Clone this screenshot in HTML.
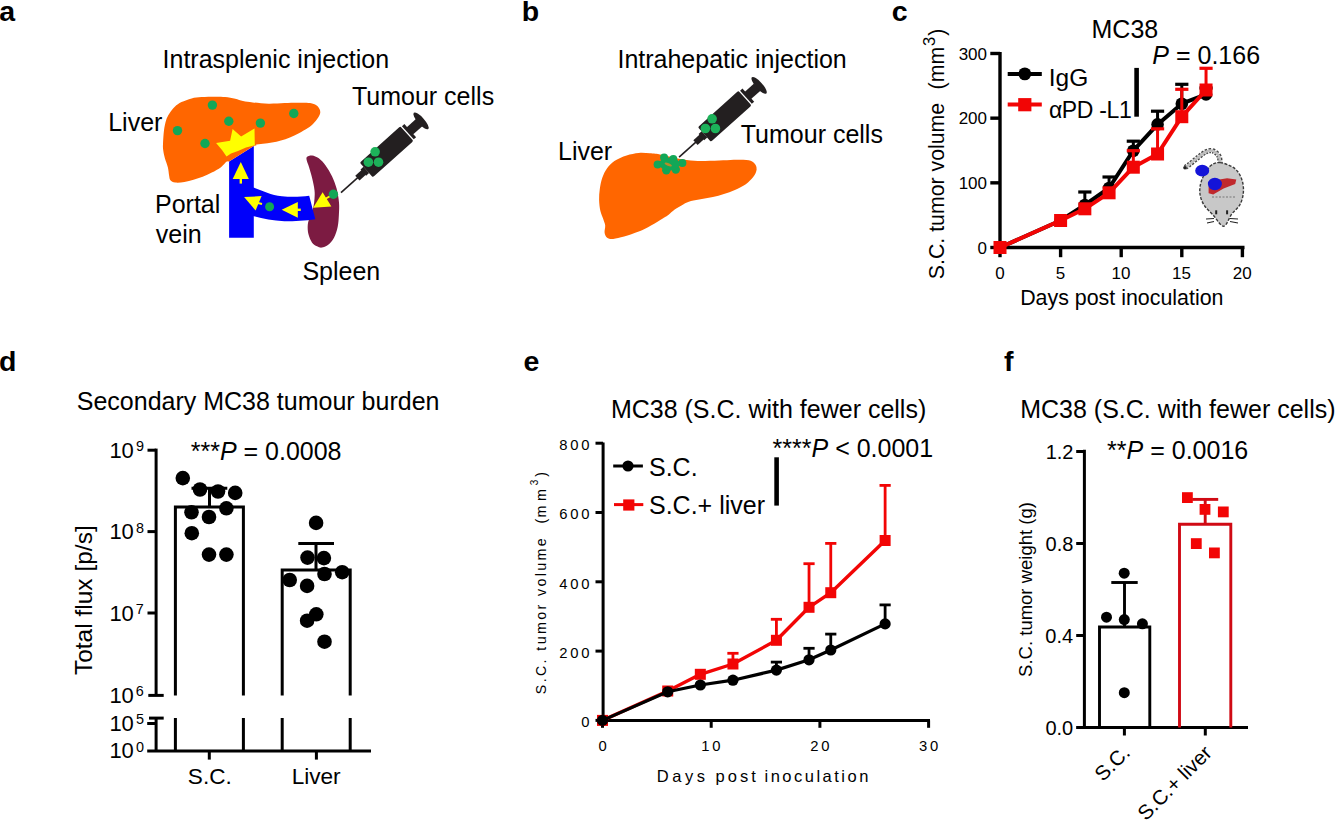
<!DOCTYPE html>
<html><head><meta charset="utf-8"><style>
html,body{margin:0;padding:0;background:#fff;overflow:hidden;width:1336px;height:820px;}
svg{display:block;}
text{font-family:"Liberation Sans", sans-serif;}
</style></head><body>
<svg width="1336" height="820" viewBox="0 0 1336 820">
<rect width="1336" height="820" fill="#fff"/>
<text x="-0.88" y="21.20" font-size="28.5" font-weight="bold">a</text>
<text x="521.83" y="21.00" font-size="28.5" font-weight="bold">b</text>
<text x="891.77" y="20.80" font-size="28.5" font-weight="bold">c</text>
<text x="-1.12" y="370.80" font-size="28.5" font-weight="bold">d</text>
<text x="523.48" y="370.80" font-size="28.5" font-weight="bold">e</text>
<text x="1003.90" y="371.00" font-size="28.5" font-weight="bold">f</text>
<text x="162.55" y="68.00" font-size="25">Intrasplenic injection</text>
<path d="M163.00,143.70 C163.13,140.42 163.48,134.22 164.00,130.30 C164.52,126.38 165.20,123.00 166.10,120.20 C167.00,117.40 167.95,115.73 169.40,113.50 C170.85,111.27 172.78,108.70 174.80,106.80 C176.82,104.90 178.70,103.50 181.50,102.10 C184.30,100.70 188.25,99.25 191.60,98.40 C194.95,97.55 197.70,97.28 201.60,97.00 C205.50,96.72 211.08,96.70 215.00,96.70 C218.92,96.70 221.73,96.67 225.10,97.00 C228.47,97.33 232.22,98.02 235.20,98.70 C238.18,99.38 240.08,100.48 243.00,101.10 C245.92,101.72 248.43,101.97 252.70,102.40 C256.97,102.83 263.30,103.60 268.60,103.70 C273.90,103.80 279.72,103.17 284.50,103.00 C289.28,102.83 293.05,102.70 297.30,102.70 C301.55,102.70 306.83,102.57 310.00,103.00 C313.17,103.43 314.72,104.28 316.30,105.30 C317.88,106.32 318.85,107.83 319.50,109.10 C320.15,110.37 320.42,111.52 320.20,112.90 C319.98,114.28 319.37,115.60 318.20,117.40 C317.03,119.20 314.92,121.93 313.20,123.70 C311.48,125.47 310.28,126.42 307.90,128.00 C305.52,129.58 301.90,131.63 298.90,133.20 C295.90,134.77 292.90,136.20 289.90,137.40 C286.90,138.60 283.88,139.55 280.90,140.40 C277.92,141.25 274.98,141.95 272.00,142.50 C269.02,143.05 265.90,143.32 263.00,143.70 C260.10,144.08 257.43,144.00 254.60,144.80 C251.77,145.60 248.65,147.13 246.00,148.50 C243.35,149.87 241.75,150.98 238.70,153.00 C235.65,155.02 230.65,158.23 227.70,160.60 C224.75,162.97 223.65,165.20 221.00,167.20 C218.35,169.20 214.85,171.00 211.80,172.60 C208.75,174.20 205.75,175.60 202.70,176.80 C199.65,178.00 196.55,178.92 193.50,179.80 C190.45,180.68 187.45,181.63 184.40,182.10 C181.35,182.57 177.53,182.92 175.20,182.60 C172.87,182.28 171.42,181.40 170.40,180.20 C169.38,179.00 169.52,177.53 169.10,175.40 C168.68,173.27 168.60,170.25 167.90,167.40 C167.20,164.55 165.68,161.20 164.90,158.30 C164.12,155.40 163.52,152.43 163.20,150.00 C162.88,147.57 162.87,146.98 163.00,143.70 Z" fill="#FF6600"/>
<circle cx="212.40" cy="105.10" r="4.7" fill="#12A757"/>
<circle cx="228.80" cy="121.20" r="4.7" fill="#12A757"/>
<circle cx="177.50" cy="130.60" r="4.7" fill="#12A757"/>
<circle cx="205.00" cy="143.50" r="4.7" fill="#12A757"/>
<circle cx="260.40" cy="123.10" r="4.7" fill="#12A757"/>
<circle cx="293.80" cy="113.50" r="4.7" fill="#12A757"/>
<path d="M307.20,156.70 C308.12,155.98 310.17,155.23 312.10,155.50 C314.03,155.77 316.55,156.65 318.80,158.30 C321.05,159.95 323.40,162.42 325.60,165.40 C327.80,168.38 330.17,172.33 332.00,176.20 C333.83,180.07 335.43,184.23 336.60,188.60 C337.77,192.97 338.62,198.07 339.00,202.40 C339.38,206.73 339.12,210.53 338.90,214.60 C338.68,218.67 338.52,222.93 337.70,226.80 C336.88,230.67 335.63,234.75 334.00,237.80 C332.37,240.85 329.93,243.47 327.90,245.10 C325.87,246.73 323.62,247.40 321.80,247.60 C319.98,247.80 318.62,247.12 317.00,246.30 C315.38,245.48 313.53,244.73 312.10,242.70 C310.67,240.67 309.12,237.15 308.40,234.10 C307.68,231.05 307.50,227.43 307.80,224.40 C308.10,221.37 309.28,218.75 310.20,215.90 C311.12,213.05 312.58,210.15 313.30,207.30 C314.02,204.45 314.30,201.65 314.50,198.80 C314.70,195.95 314.90,193.67 314.50,190.20 C314.10,186.73 313.02,181.85 312.10,178.00 C311.18,174.15 309.92,170.13 309.00,167.10 C308.08,164.07 306.90,161.53 306.60,159.80 C306.30,158.07 306.28,157.42 307.20,156.70 Z" fill="#7C1B42"/>
<polygon points="229.10,161.50 253.80,146.00 253.80,237.70 229.10,237.70" fill="#0000FA"/>
<path d="M252,187 C262,190 270,195 282,196.3 C292,197.2 301,196.8 309.2,195.7 L315.3,219.2 C305,220.6 295,221.2 284.4,221.2 C272,220.8 262,218.5 252,215.8 Z" fill="#0000FA"/>
<polygon points="224.00,152.00 254.00,139.50 256.50,145.20 253.80,146.00 229.10,161.50 223.00,161.00" fill="#FF6600"/>
<polygon points="216.10,142.90 230.10,140.70 232.60,129.10 241.10,136.50 254.50,128.50 254.80,145.30 246.00,147.50 238.00,151.00 231.00,153.50 226.50,156.50 222.00,150.00" fill="#FFFF00"/>
<polygon points="240.80,162.10 232.70,178.90 248.80,178.90" fill="#FFFF00"/>
<line x1="240.80" y1="178.00" x2="240.80" y2="183.60" stroke="#FFFF00" stroke-width="2.4" stroke-linecap="butt"/>
<polygon points="244.10,197.00 261.60,196.10 255.60,210.40" fill="#FFFF00"/>
<line x1="258.00" y1="203.00" x2="262.00" y2="204.00" stroke="#FFFF00" stroke-width="2.2" stroke-linecap="butt"/>
<polygon points="281.70,209.80 297.80,202.00 297.80,217.80" fill="#FFFF00"/>
<line x1="297.00" y1="209.80" x2="300.80" y2="209.80" stroke="#FFFF00" stroke-width="2.4" stroke-linecap="butt"/>
<polygon points="313.20,207.80 322.60,192.30 331.40,206.40" fill="#FFFF00"/>
<line x1="325.00" y1="199.00" x2="333.00" y2="194.50" stroke="#FFFF00" stroke-width="2.0" stroke-linecap="butt"/>
<circle cx="269.60" cy="206.70" r="4.5" fill="#12A757"/>
<circle cx="333.40" cy="194.30" r="4.7" fill="#12A757"/>
<g transform="translate(341.00,192.70) rotate(-41.9)"><line x1="0" y1="0" x2="24" y2="0" stroke="#231F20" stroke-width="1.6"/><rect x="22" y="-3.2" width="10" height="6.4" fill="#231F20"/><rect x="30" y="-4.2" width="4" height="8.4" fill="#231F20"/><rect x="34" y="-9.8" width="54.5" height="19.6" rx="1.5" fill="#231F20"/><rect x="89.8" y="-8.8" width="3.2" height="17.6" fill="#231F20"/><rect x="92" y="-4.8" width="13" height="9.6" fill="#231F20"/><ellipse cx="107.5" cy="0" rx="3.4" ry="10.8" fill="#231F20"/></g>
<circle cx="375.10" cy="151.80" r="4.8" fill="#1DB25A"/>
<circle cx="368.40" cy="162.20" r="4.8" fill="#1DB25A"/>
<circle cx="378.50" cy="162.20" r="4.8" fill="#1DB25A"/>
<text x="108.20" y="130.70" font-size="25">Liver</text>
<text x="351.98" y="105.40" font-size="25">Tumour cells</text>
<text x="155.00" y="213.20" font-size="25">Portal</text>
<text x="155.78" y="242.90" font-size="25">vein</text>
<text x="302.38" y="279.80" font-size="25">Spleen</text>
<text x="617.45" y="68.10" font-size="25">Intrahepatic injection</text>
<path d="M599.10,199.90 C599.00,196.23 599.28,192.57 599.80,188.90 C600.32,185.23 600.98,181.35 602.20,177.90 C603.42,174.45 605.07,171.03 607.10,168.20 C609.13,165.37 611.15,163.03 614.40,160.90 C617.65,158.77 622.53,156.73 626.60,155.40 C630.67,154.07 634.90,153.25 638.80,152.90 C642.70,152.55 646.47,153.03 650.00,153.30 C653.53,153.57 653.90,153.37 660.00,154.50 C666.10,155.63 679.12,159.02 686.60,160.10 C694.08,161.18 698.80,160.97 704.90,161.00 C711.00,161.03 717.87,160.52 723.20,160.30 C728.53,160.08 732.63,159.70 736.90,159.70 C741.17,159.70 745.90,159.70 748.80,160.30 C751.70,160.90 753.02,162.12 754.30,163.30 C755.58,164.48 756.20,165.98 756.50,167.40 C756.80,168.82 756.65,170.20 756.10,171.80 C755.55,173.40 754.92,174.92 753.20,177.00 C751.48,179.08 748.85,182.12 745.80,184.30 C742.75,186.48 738.55,188.47 734.90,190.10 C731.25,191.73 727.57,192.93 723.90,194.10 C720.23,195.27 716.57,196.30 712.90,197.10 C709.23,197.90 705.55,198.23 701.90,198.90 C698.25,199.57 694.12,200.18 691.00,201.10 C687.88,202.02 685.92,203.00 683.20,204.40 C680.48,205.80 677.18,207.73 674.70,209.50 C672.22,211.27 670.22,213.55 668.30,215.00 C666.38,216.45 666.08,216.45 663.20,218.20 C660.32,219.95 655.07,223.27 651.00,225.50 C646.93,227.73 643.28,229.77 638.80,231.60 C634.32,233.43 628.37,235.28 624.10,236.50 C619.83,237.72 616.03,238.70 613.20,238.90 C610.37,239.10 608.53,238.72 607.10,237.70 C605.67,236.68 604.92,234.83 604.60,232.80 C604.28,230.77 605.40,227.73 605.20,225.50 C605.00,223.27 604.20,221.83 603.40,219.40 C602.60,216.97 601.12,214.15 600.40,210.90 C599.68,207.65 599.20,203.57 599.10,199.90 Z" fill="#FF6600"/>
<circle cx="657.60" cy="164.50" r="4.0" fill="#12A757"/>
<circle cx="664.10" cy="157.40" r="4.0" fill="#12A757"/>
<circle cx="673.30" cy="159.00" r="4.0" fill="#12A757"/>
<circle cx="682.40" cy="162.90" r="4.0" fill="#12A757"/>
<circle cx="675.80" cy="169.60" r="4.2" fill="#12A757"/>
<circle cx="666.30" cy="170.20" r="4.2" fill="#12A757"/>
<ellipse cx="669.5" cy="164" rx="10.5" ry="6.5" fill="#12A757"/>
<ellipse cx="668.2" cy="164.5" rx="3.8" ry="1.4" transform="rotate(22 668.2 164.5)" fill="#B88A2A"/>
<g transform="translate(679.10,157.20) rotate(-41.9)"><line x1="0" y1="0" x2="24" y2="0" stroke="#231F20" stroke-width="1.6"/><rect x="22" y="-3.2" width="10" height="6.4" fill="#231F20"/><rect x="30" y="-4.2" width="4" height="8.4" fill="#231F20"/><rect x="34" y="-9.8" width="54.5" height="19.6" rx="1.5" fill="#231F20"/><rect x="89.8" y="-8.8" width="3.2" height="17.6" fill="#231F20"/><rect x="92" y="-4.8" width="13" height="9.6" fill="#231F20"/><ellipse cx="107.5" cy="0" rx="3.4" ry="10.8" fill="#231F20"/></g>
<circle cx="712.10" cy="118.80" r="4.8" fill="#1DB25A"/>
<circle cx="705.40" cy="128.50" r="4.8" fill="#1DB25A"/>
<circle cx="715.40" cy="128.50" r="4.8" fill="#1DB25A"/>
<text x="740.77" y="142.80" font-size="25">Tumour cells</text>
<text x="558.00" y="159.60" font-size="25">Liver</text>
<text x="1091.50" y="37.60" font-size="25">MC38</text>
<line x1="1000.00" y1="52.00" x2="1000.00" y2="249.20" stroke="#000" stroke-width="3.4" stroke-linecap="butt"/>
<line x1="998.30" y1="247.50" x2="1244.50" y2="247.50" stroke="#000" stroke-width="3.4" stroke-linecap="butt"/>
<line x1="990.30" y1="247.50" x2="1000.00" y2="247.50" stroke="#000" stroke-width="3.4" stroke-linecap="butt"/>
<text x="977.55" y="253.60" font-size="17">0</text>
<line x1="990.30" y1="182.83" x2="1000.00" y2="182.83" stroke="#000" stroke-width="3.4" stroke-linecap="butt"/>
<text x="958.67" y="188.93" font-size="17">100</text>
<line x1="990.30" y1="118.16" x2="1000.00" y2="118.16" stroke="#000" stroke-width="3.4" stroke-linecap="butt"/>
<text x="958.67" y="124.26" font-size="17">200</text>
<line x1="990.30" y1="53.49" x2="1000.00" y2="53.49" stroke="#000" stroke-width="3.4" stroke-linecap="butt"/>
<text x="958.67" y="59.59" font-size="17">300</text>
<line x1="1000.00" y1="247.50" x2="1000.00" y2="257.20" stroke="#000" stroke-width="3.4" stroke-linecap="butt"/>
<text x="995.31" y="278.60" font-size="17">0</text>
<line x1="1060.60" y1="247.50" x2="1060.60" y2="257.20" stroke="#000" stroke-width="3.4" stroke-linecap="butt"/>
<text x="1055.85" y="278.60" font-size="17">5</text>
<line x1="1121.20" y1="247.50" x2="1121.20" y2="257.20" stroke="#000" stroke-width="3.4" stroke-linecap="butt"/>
<text x="1111.45" y="278.60" font-size="17">10</text>
<line x1="1181.80" y1="247.50" x2="1181.80" y2="257.20" stroke="#000" stroke-width="3.4" stroke-linecap="butt"/>
<text x="1172.05" y="278.60" font-size="17">15</text>
<line x1="1242.40" y1="247.50" x2="1242.40" y2="257.20" stroke="#000" stroke-width="3.4" stroke-linecap="butt"/>
<text x="1232.84" y="278.60" font-size="17">20</text>
<text x="1020.15" y="304.60" font-size="21.4">Days post inoculation</text>
<text transform="translate(943.9,279.20) rotate(-90)" font-size="21.3">S.C. tumor volume</text>
<text transform="translate(943.9,89.38) rotate(-90)" font-size="21.3">(mm</text>
<text transform="translate(935.2,46.02) rotate(-90)" font-size="16.5">3</text>
<text transform="translate(943.9,35.65) rotate(-90)" font-size="21.3">)</text>
<polyline points="1000.00,247.50 1060.60,220.50 1084.84,205.00 1109.08,188.00 1133.32,150.70 1157.56,124.40 1181.80,103.70 1206.04,94.40" fill="none" stroke="#000" stroke-width="4" stroke-linejoin="round"/>
<line x1="1084.84" y1="205.00" x2="1084.84" y2="192.00" stroke="#000" stroke-width="3" stroke-linecap="butt"/>
<line x1="1078.24" y1="192.00" x2="1091.44" y2="192.00" stroke="#000" stroke-width="3.2" stroke-linecap="butt"/>
<line x1="1109.08" y1="188.00" x2="1109.08" y2="177.00" stroke="#000" stroke-width="3" stroke-linecap="butt"/>
<line x1="1102.48" y1="177.00" x2="1115.68" y2="177.00" stroke="#000" stroke-width="3.2" stroke-linecap="butt"/>
<line x1="1133.32" y1="150.70" x2="1133.32" y2="141.20" stroke="#000" stroke-width="3" stroke-linecap="butt"/>
<line x1="1126.72" y1="141.20" x2="1139.92" y2="141.20" stroke="#000" stroke-width="3.2" stroke-linecap="butt"/>
<line x1="1157.56" y1="124.40" x2="1157.56" y2="111.20" stroke="#000" stroke-width="3" stroke-linecap="butt"/>
<line x1="1150.96" y1="111.20" x2="1164.16" y2="111.20" stroke="#000" stroke-width="3.2" stroke-linecap="butt"/>
<line x1="1181.80" y1="103.70" x2="1181.80" y2="84.30" stroke="#000" stroke-width="3" stroke-linecap="butt"/>
<line x1="1175.20" y1="84.30" x2="1188.40" y2="84.30" stroke="#000" stroke-width="3.2" stroke-linecap="butt"/>
<line x1="1206.04" y1="94.40" x2="1206.04" y2="88.00" stroke="#000" stroke-width="3" stroke-linecap="butt"/>
<line x1="1199.44" y1="88.00" x2="1212.64" y2="88.00" stroke="#000" stroke-width="3.2" stroke-linecap="butt"/>
<circle cx="1000.00" cy="247.50" r="6.3" fill="#000"/>
<circle cx="1060.60" cy="220.50" r="6.3" fill="#000"/>
<circle cx="1084.84" cy="205.00" r="6.3" fill="#000"/>
<circle cx="1109.08" cy="188.00" r="6.3" fill="#000"/>
<circle cx="1133.32" cy="150.70" r="6.3" fill="#000"/>
<circle cx="1157.56" cy="124.40" r="6.3" fill="#000"/>
<circle cx="1181.80" cy="103.70" r="6.3" fill="#000"/>
<circle cx="1206.04" cy="94.40" r="6.3" fill="#000"/>
<polyline points="1000.00,247.50 1060.60,220.50 1084.84,208.80 1109.08,192.80 1133.32,167.20 1157.56,154.00 1181.80,116.70 1206.04,90.00" fill="none" stroke="#F20505" stroke-width="4" stroke-linejoin="round"/>
<line x1="1133.32" y1="167.20" x2="1133.32" y2="150.70" stroke="#F20505" stroke-width="3" stroke-linecap="butt"/>
<line x1="1126.72" y1="150.70" x2="1139.92" y2="150.70" stroke="#F20505" stroke-width="3.2" stroke-linecap="butt"/>
<line x1="1157.56" y1="154.00" x2="1157.56" y2="128.80" stroke="#F20505" stroke-width="3" stroke-linecap="butt"/>
<line x1="1150.96" y1="128.80" x2="1164.16" y2="128.80" stroke="#F20505" stroke-width="3.2" stroke-linecap="butt"/>
<line x1="1181.80" y1="116.70" x2="1181.80" y2="89.30" stroke="#F20505" stroke-width="3" stroke-linecap="butt"/>
<line x1="1175.20" y1="89.30" x2="1188.40" y2="89.30" stroke="#F20505" stroke-width="3.2" stroke-linecap="butt"/>
<line x1="1206.04" y1="90.00" x2="1206.04" y2="68.30" stroke="#F20505" stroke-width="3" stroke-linecap="butt"/>
<line x1="1199.44" y1="68.30" x2="1212.64" y2="68.30" stroke="#F20505" stroke-width="3.2" stroke-linecap="butt"/>
<rect x="993.50" y="241.00" width="13.00" height="13.00" fill="#F20505"/>
<rect x="1054.10" y="214.00" width="13.00" height="13.00" fill="#F20505"/>
<rect x="1078.34" y="202.30" width="13.00" height="13.00" fill="#F20505"/>
<rect x="1102.58" y="186.30" width="13.00" height="13.00" fill="#F20505"/>
<rect x="1126.82" y="160.70" width="13.00" height="13.00" fill="#F20505"/>
<rect x="1151.06" y="147.50" width="13.00" height="13.00" fill="#F20505"/>
<rect x="1175.30" y="110.20" width="13.00" height="13.00" fill="#F20505"/>
<rect x="1199.54" y="83.50" width="13.00" height="13.00" fill="#F20505"/>
<line x1="1007.70" y1="73.90" x2="1041.80" y2="73.90" stroke="#000" stroke-width="4" stroke-linecap="butt"/>
<circle cx="1024.80" cy="73.90" r="6.4" fill="#000"/>
<line x1="1007.70" y1="104.40" x2="1041.80" y2="104.40" stroke="#F20505" stroke-width="4" stroke-linecap="butt"/>
<rect x="1018.20" y="98.10" width="13.20" height="13.20" fill="#F20505"/>
<text x="1048.75" y="85.50" font-size="24.5">IgG</text>
<text x="1048.90" y="117.80" font-size="23" letter-spacing="-0.35">αPD -L1</text>
<line x1="1136.60" y1="67.90" x2="1136.60" y2="116.70" stroke="#000" stroke-width="4.6" stroke-linecap="butt"/>
<text x="1152.35" y="64.40" font-size="25" font-style="italic">P</text>
<text x="1169.02" y="64.40" font-size="25" style="white-space:pre"> = 0.166</text>
<g>
<path d="M1220.10,164.00 C1219.92,162.70 1220.15,158.37 1219.00,156.20 C1217.85,154.03 1215.32,151.77 1213.20,151.00 C1211.08,150.23 1208.82,150.53 1206.30,151.60 C1203.78,152.67 1201.00,155.18 1198.10,157.40 C1195.20,159.62 1191.12,163.17 1188.90,164.90 C1186.68,166.63 1185.48,167.32 1184.80,167.80" fill="none" stroke="#444" stroke-width="5.2" stroke-dasharray="2.2,1.4"/>
<path d="M1220.10,164.00 C1219.92,162.70 1220.15,158.37 1219.00,156.20 C1217.85,154.03 1215.32,151.77 1213.20,151.00 C1211.08,150.23 1208.82,150.53 1206.30,151.60 C1203.78,152.67 1201.00,155.18 1198.10,157.40 C1195.20,159.62 1191.12,163.17 1188.90,164.90 C1186.68,166.63 1185.48,167.32 1184.80,167.80" fill="none" stroke="#BDBDBD" stroke-width="2.6"/>
<circle cx="1185" cy="167.8" r="1.8" fill="#222"/>
<path d="M1220.10,162.60 C1224.35,162.98 1231.53,165.92 1235.20,168.90 C1238.87,171.88 1240.75,176.45 1242.10,180.50 C1243.45,184.55 1243.68,189.15 1243.30,193.20 C1242.92,197.25 1241.73,201.32 1239.80,204.80 C1237.87,208.28 1234.40,210.53 1231.70,214.10 C1229.00,217.67 1226.68,226.02 1223.60,226.20 C1220.52,226.38 1216.48,218.77 1213.20,215.20 C1209.92,211.63 1206.12,208.47 1203.90,204.80 C1201.68,201.13 1200.28,197.25 1199.90,193.20 C1199.52,189.15 1199.97,184.93 1201.60,180.50 C1203.23,176.07 1206.62,169.58 1209.70,166.60 C1212.78,163.62 1215.85,162.22 1220.10,162.60 Z" fill="#C8C8C8" stroke="#3A3A3A" stroke-width="1.4" stroke-dasharray="3,1.5"/>
<path d="M1212,197 L1236,197" stroke="#777" stroke-width="1.2" stroke-dasharray="2,1.5"/>
<path d="M1208.6,186.3 L1213.2,180.5 L1227.1,178.2 L1236.3,179.4 L1235.2,184 L1223.6,188.6 L1213.2,194.4 L1208.6,193.2 Z" fill="#C0282C"/>
<ellipse cx="1202.2" cy="170.7" rx="7" ry="5.9" fill="#1414D8"/>
<ellipse cx="1214.9" cy="184" rx="7" ry="6.2" fill="#1414D8"/>
<rect x="1215.2" y="210.3" width="2" height="4" fill="#222"/><rect x="1226.1" y="210.3" width="2" height="4" fill="#222"/>
<path d="M1206,219 L1214,218.5 M1207,223 L1214,221.5 M1230,218.5 L1238,219 M1230,221.5 L1238,223" stroke="#222" stroke-width="1.1"/>
</g>
<text x="76.78" y="409.90" font-size="25">Secondary MC38 tumour burden</text>
<text x="190.70" y="459.50" font-size="25" style="white-space:pre">***<tspan font-style="italic">P</tspan> = 0.0008</text>
<line x1="156.10" y1="448.60" x2="156.10" y2="695.40" stroke="#000" stroke-width="3" stroke-linecap="butt"/>
<line x1="147.50" y1="450.20" x2="156.10" y2="450.20" stroke="#000" stroke-width="3" stroke-linecap="butt"/>
<line x1="147.50" y1="531.60" x2="156.10" y2="531.60" stroke="#000" stroke-width="3" stroke-linecap="butt"/>
<line x1="147.50" y1="613.00" x2="156.10" y2="613.00" stroke="#000" stroke-width="3" stroke-linecap="butt"/>
<line x1="148.30" y1="695.40" x2="163.70" y2="695.40" stroke="#000" stroke-width="3" stroke-linecap="butt"/>
<line x1="149.00" y1="718.10" x2="163.70" y2="718.10" stroke="#000" stroke-width="3" stroke-linecap="butt"/>
<line x1="156.10" y1="718.10" x2="156.10" y2="751.00" stroke="#000" stroke-width="3" stroke-linecap="butt"/>
<line x1="147.20" y1="723.50" x2="156.10" y2="723.50" stroke="#000" stroke-width="3" stroke-linecap="butt"/>
<line x1="147.20" y1="751.00" x2="371.00" y2="751.00" stroke="#000" stroke-width="3" stroke-linecap="butt"/>
<line x1="209.30" y1="751.00" x2="209.30" y2="759.60" stroke="#000" stroke-width="3" stroke-linecap="butt"/>
<line x1="316.40" y1="751.00" x2="316.40" y2="759.60" stroke="#000" stroke-width="3" stroke-linecap="butt"/>
<text x="109.38" y="457.80" font-size="22">10</text>
<text x="135.88" y="451.20" font-size="14.4">9</text>
<text x="109.38" y="539.20" font-size="22">10</text>
<text x="135.88" y="532.60" font-size="14.4">8</text>
<text x="109.38" y="620.60" font-size="22">10</text>
<text x="135.75" y="614.00" font-size="14.4">7</text>
<text x="109.38" y="702.80" font-size="22">10</text>
<text x="135.75" y="696.20" font-size="14.4">6</text>
<text x="109.38" y="730.90" font-size="22">10</text>
<text x="135.88" y="724.30" font-size="14.4">5</text>
<text x="109.38" y="758.40" font-size="22">10</text>
<text x="135.88" y="751.80" font-size="14.4">0</text>
<path d="M175.4,695.4 L175.4,507.1 L243.4,507.1 L243.4,695.4 M175.4,718.1 L175.4,751 M243.4,718.1 L243.4,751" fill="none" stroke="#000" stroke-width="3" stroke-linejoin="miter"/>
<path d="M282.2,695.4 L282.2,570.0 L350.2,570.0 L350.2,695.4 M282.2,718.1 L282.2,751 M350.2,718.1 L350.2,751" fill="none" stroke="#000" stroke-width="3" stroke-linejoin="miter"/>
<line x1="209.50" y1="507.10" x2="209.50" y2="488.20" stroke="#000" stroke-width="3" stroke-linecap="butt"/>
<line x1="191.50" y1="488.20" x2="227.30" y2="488.20" stroke="#000" stroke-width="3" stroke-linecap="butt"/>
<line x1="316.00" y1="570.00" x2="316.00" y2="543.50" stroke="#000" stroke-width="3" stroke-linecap="butt"/>
<line x1="298.30" y1="543.50" x2="334.00" y2="543.50" stroke="#000" stroke-width="3" stroke-linecap="butt"/>
<circle cx="182.80" cy="478.10" r="7.3" fill="#000"/>
<circle cx="200.00" cy="489.50" r="7.3" fill="#000"/>
<circle cx="218.00" cy="491.50" r="7.3" fill="#000"/>
<circle cx="235.20" cy="492.90" r="7.3" fill="#000"/>
<circle cx="191.50" cy="512.30" r="7.3" fill="#000"/>
<circle cx="209.00" cy="517.00" r="7.3" fill="#000"/>
<circle cx="226.40" cy="508.30" r="7.3" fill="#000"/>
<circle cx="191.80" cy="533.20" r="7.3" fill="#000"/>
<circle cx="209.00" cy="554.60" r="7.3" fill="#000"/>
<circle cx="226.40" cy="554.60" r="7.3" fill="#000"/>
<circle cx="316.10" cy="522.90" r="7.3" fill="#000"/>
<circle cx="307.50" cy="557.60" r="7.3" fill="#000"/>
<circle cx="323.90" cy="558.10" r="7.3" fill="#000"/>
<circle cx="324.50" cy="574.00" r="7.3" fill="#000"/>
<circle cx="342.20" cy="572.20" r="7.3" fill="#000"/>
<circle cx="289.70" cy="580.00" r="7.3" fill="#000"/>
<circle cx="307.10" cy="585.90" r="7.3" fill="#000"/>
<circle cx="316.30" cy="614.30" r="7.3" fill="#000"/>
<circle cx="307.10" cy="620.70" r="7.3" fill="#000"/>
<circle cx="324.50" cy="641.70" r="7.3" fill="#000"/>
<text transform="translate(91.9,675.10) rotate(-90)" font-size="24.5">Total flux [p/s]</text>
<text x="187.84" y="783.50" font-size="22.6">S.C.</text>
<text x="291.65" y="783.50" font-size="22.6">Liver</text>
<text x="610.90" y="417.70" font-size="25">MC38 (S.C. with fewer cells)</text>
<text x="772.60" y="456.90" font-size="25" style="white-space:pre">****<tspan font-style="italic">P</tspan> &lt; 0.0001</text>
<line x1="603.10" y1="442.60" x2="603.10" y2="722.00" stroke="#000" stroke-width="3" stroke-linecap="butt"/>
<line x1="601.60" y1="720.40" x2="930.00" y2="720.40" stroke="#000" stroke-width="3" stroke-linecap="butt"/>
<line x1="595.50" y1="720.40" x2="603.10" y2="720.40" stroke="#000" stroke-width="3" stroke-linecap="butt"/>
<text x="581.27" y="727.30" font-size="14.8" letter-spacing="2.8">0</text>
<line x1="595.50" y1="651.10" x2="603.10" y2="651.10" stroke="#000" stroke-width="3" stroke-linecap="butt"/>
<text x="559.21" y="658.00" font-size="14.8" letter-spacing="2.8">200</text>
<line x1="595.50" y1="581.80" x2="603.10" y2="581.80" stroke="#000" stroke-width="3" stroke-linecap="butt"/>
<text x="559.21" y="588.70" font-size="14.8" letter-spacing="2.8">400</text>
<line x1="595.50" y1="512.50" x2="603.10" y2="512.50" stroke="#000" stroke-width="3" stroke-linecap="butt"/>
<text x="559.21" y="519.40" font-size="14.8" letter-spacing="2.8">600</text>
<line x1="595.50" y1="443.20" x2="603.10" y2="443.20" stroke="#000" stroke-width="3" stroke-linecap="butt"/>
<text x="559.21" y="450.10" font-size="14.8" letter-spacing="2.8">800</text>
<line x1="602.50" y1="720.40" x2="602.50" y2="727.80" stroke="#000" stroke-width="3" stroke-linecap="butt"/>
<text x="598.38" y="751.2" font-size="14.8" letter-spacing="2.8">0</text>
<line x1="711.20" y1="720.40" x2="711.20" y2="727.80" stroke="#000" stroke-width="3" stroke-linecap="butt"/>
<text x="701.31" y="751.2" font-size="14.8" letter-spacing="2.8">10</text>
<line x1="819.90" y1="720.40" x2="819.90" y2="727.80" stroke="#000" stroke-width="3" stroke-linecap="butt"/>
<text x="810.20" y="751.2" font-size="14.8" letter-spacing="2.8">20</text>
<line x1="928.60" y1="720.40" x2="928.60" y2="727.80" stroke="#000" stroke-width="3" stroke-linecap="butt"/>
<text x="918.96" y="751.2" font-size="14.8" letter-spacing="2.8">30</text>
<text x="656.83" y="781.60" font-size="16.5" letter-spacing="3.5">Days</text>
<text x="715.58" y="781.60" font-size="16.5" letter-spacing="3.0">post</text>
<text x="764.48" y="781.60" font-size="16.5" letter-spacing="2.5">inoculation</text>
<text transform="translate(545.5,694.23) rotate(-90)" font-size="14.2" letter-spacing="2.4">S.C. tumor volume</text>
<text transform="translate(545.5,523.48) rotate(-90)" font-size="14.2">(</text>
<text transform="translate(545.5,517.50) rotate(-90)" font-size="14.2">m</text>
<text transform="translate(545.5,501.00) rotate(-90)" font-size="14.2">m</text>
<text transform="translate(537.6,485.18) rotate(-90)" font-size="10">3</text>
<text transform="translate(545.5,476.73) rotate(-90)" font-size="14.2">)</text>
<polyline points="602.50,720.40 667.72,691.00 700.33,674.30 732.94,664.00 776.42,640.30 809.03,607.30 830.77,592.70 885.12,540.50" fill="none" stroke="#F20505" stroke-width="3.4" stroke-linejoin="round"/>
<line x1="732.94" y1="664.00" x2="732.94" y2="653.30" stroke="#F20505" stroke-width="2.8" stroke-linecap="butt"/>
<line x1="727.34" y1="653.30" x2="738.54" y2="653.30" stroke="#F20505" stroke-width="2.8" stroke-linecap="butt"/>
<line x1="776.42" y1="640.30" x2="776.42" y2="619.30" stroke="#F20505" stroke-width="2.8" stroke-linecap="butt"/>
<line x1="770.82" y1="619.30" x2="782.02" y2="619.30" stroke="#F20505" stroke-width="2.8" stroke-linecap="butt"/>
<line x1="809.03" y1="607.30" x2="809.03" y2="563.70" stroke="#F20505" stroke-width="2.8" stroke-linecap="butt"/>
<line x1="803.43" y1="563.70" x2="814.63" y2="563.70" stroke="#F20505" stroke-width="2.8" stroke-linecap="butt"/>
<line x1="830.77" y1="592.70" x2="830.77" y2="543.40" stroke="#F20505" stroke-width="2.8" stroke-linecap="butt"/>
<line x1="825.17" y1="543.40" x2="836.37" y2="543.40" stroke="#F20505" stroke-width="2.8" stroke-linecap="butt"/>
<line x1="885.12" y1="540.50" x2="885.12" y2="485.40" stroke="#F20505" stroke-width="2.8" stroke-linecap="butt"/>
<line x1="879.52" y1="485.40" x2="890.72" y2="485.40" stroke="#F20505" stroke-width="2.8" stroke-linecap="butt"/>
<rect x="597.00" y="714.90" width="11.00" height="11.00" fill="#F20505"/>
<rect x="662.22" y="685.50" width="11.00" height="11.00" fill="#F20505"/>
<rect x="694.83" y="668.80" width="11.00" height="11.00" fill="#F20505"/>
<rect x="727.44" y="658.50" width="11.00" height="11.00" fill="#F20505"/>
<rect x="770.92" y="634.80" width="11.00" height="11.00" fill="#F20505"/>
<rect x="803.53" y="601.80" width="11.00" height="11.00" fill="#F20505"/>
<rect x="825.27" y="587.20" width="11.00" height="11.00" fill="#F20505"/>
<rect x="879.62" y="535.00" width="11.00" height="11.00" fill="#F20505"/>
<polyline points="602.50,720.40 667.72,691.80 700.33,685.00 732.94,680.20 776.42,670.10 809.03,659.80 830.77,650.00 885.12,623.90" fill="none" stroke="#000" stroke-width="3.2" stroke-linejoin="round"/>
<line x1="776.42" y1="670.10" x2="776.42" y2="662.10" stroke="#000" stroke-width="2.8" stroke-linecap="butt"/>
<line x1="770.82" y1="662.10" x2="782.02" y2="662.10" stroke="#000" stroke-width="2.8" stroke-linecap="butt"/>
<line x1="809.03" y1="659.80" x2="809.03" y2="648.30" stroke="#000" stroke-width="2.8" stroke-linecap="butt"/>
<line x1="803.43" y1="648.30" x2="814.63" y2="648.30" stroke="#000" stroke-width="2.8" stroke-linecap="butt"/>
<line x1="830.77" y1="650.00" x2="830.77" y2="634.10" stroke="#000" stroke-width="2.8" stroke-linecap="butt"/>
<line x1="825.17" y1="634.10" x2="836.37" y2="634.10" stroke="#000" stroke-width="2.8" stroke-linecap="butt"/>
<line x1="885.12" y1="623.90" x2="885.12" y2="604.90" stroke="#000" stroke-width="2.8" stroke-linecap="butt"/>
<line x1="879.52" y1="604.90" x2="890.72" y2="604.90" stroke="#000" stroke-width="2.8" stroke-linecap="butt"/>
<circle cx="602.50" cy="720.40" r="5.6" fill="#000"/>
<circle cx="667.72" cy="691.80" r="5.6" fill="#000"/>
<circle cx="700.33" cy="685.00" r="5.6" fill="#000"/>
<circle cx="732.94" cy="680.20" r="5.6" fill="#000"/>
<circle cx="776.42" cy="670.10" r="5.6" fill="#000"/>
<circle cx="809.03" cy="659.80" r="5.6" fill="#000"/>
<circle cx="830.77" cy="650.00" r="5.6" fill="#000"/>
<circle cx="885.12" cy="623.90" r="5.6" fill="#000"/>
<line x1="613.20" y1="466.00" x2="642.90" y2="466.00" stroke="#000" stroke-width="3" stroke-linecap="butt"/>
<circle cx="628.00" cy="466.00" r="5.6" fill="#000"/>
<line x1="614.00" y1="504.60" x2="643.30" y2="504.60" stroke="#F20505" stroke-width="3" stroke-linecap="butt"/>
<rect x="623.20" y="499.40" width="11.20" height="11.20" fill="#F20505"/>
<text x="648.98" y="476.00" font-size="25">S.C.</text>
<text x="648.98" y="513.80" font-size="25">S.C.+ liver</text>
<line x1="776.60" y1="457.30" x2="776.60" y2="505.60" stroke="#000" stroke-width="4.6" stroke-linecap="butt"/>
<text x="1020.20" y="417.70" font-size="25">MC38 (S.C. with fewer cells)</text>
<text x="1107.10" y="458.80" font-size="25" style="white-space:pre">**<tspan font-style="italic">P</tspan> = 0.0016</text>
<line x1="1084.40" y1="449.80" x2="1084.40" y2="729.00" stroke="#000" stroke-width="3" stroke-linecap="butt"/>
<line x1="1076.70" y1="727.50" x2="1248.00" y2="727.50" stroke="#000" stroke-width="3" stroke-linecap="butt"/>
<line x1="1076.20" y1="727.50" x2="1084.40" y2="727.50" stroke="#000" stroke-width="3" stroke-linecap="butt"/>
<text x="1045.40" y="734.70" font-size="20">0.0</text>
<line x1="1076.20" y1="635.50" x2="1084.40" y2="635.50" stroke="#000" stroke-width="3" stroke-linecap="butt"/>
<text x="1045.28" y="642.70" font-size="20">0.4</text>
<line x1="1076.20" y1="543.50" x2="1084.40" y2="543.50" stroke="#000" stroke-width="3" stroke-linecap="butt"/>
<text x="1045.53" y="550.70" font-size="20">0.8</text>
<line x1="1076.20" y1="451.50" x2="1084.40" y2="451.50" stroke="#000" stroke-width="3" stroke-linecap="butt"/>
<text x="1045.65" y="458.70" font-size="20">1.2</text>
<line x1="1124.40" y1="727.50" x2="1124.40" y2="735.50" stroke="#000" stroke-width="3" stroke-linecap="butt"/>
<line x1="1205.30" y1="727.50" x2="1205.30" y2="735.50" stroke="#000" stroke-width="3" stroke-linecap="butt"/>
<path d="M1099.5,727.5 L1099.5,627 L1149.8,627 L1149.8,727.5" fill="none" stroke="#000" stroke-width="2.9"/>
<path d="M1179.5,727.5 L1179.5,524.3 L1230.8,524.3 L1230.8,727.5" fill="none" stroke="#D00A14" stroke-width="2.9"/>
<line x1="1124.50" y1="627.00" x2="1124.50" y2="582.50" stroke="#000" stroke-width="2.9" stroke-linecap="butt"/>
<line x1="1111.30" y1="582.50" x2="1137.70" y2="582.50" stroke="#000" stroke-width="2.9" stroke-linecap="butt"/>
<line x1="1205.20" y1="524.30" x2="1205.20" y2="499.40" stroke="#D00A14" stroke-width="2.9" stroke-linecap="butt"/>
<line x1="1192.20" y1="499.40" x2="1218.20" y2="499.40" stroke="#D00A14" stroke-width="2.9" stroke-linecap="butt"/>
<circle cx="1106.50" cy="617.20" r="5.5" fill="#000"/>
<circle cx="1124.30" cy="619.60" r="5.5" fill="#000"/>
<circle cx="1142.40" cy="623.80" r="5.5" fill="#000"/>
<circle cx="1124.30" cy="692.70" r="5.5" fill="#000"/>
<circle cx="1124.20" cy="573.20" r="5.5" fill="#000"/>
<rect x="1182.00" y="492.20" width="10.80" height="10.80" fill="#F20505"/>
<rect x="1199.60" y="504.00" width="10.80" height="10.80" fill="#F20505"/>
<rect x="1217.90" y="506.50" width="10.80" height="10.80" fill="#F20505"/>
<rect x="1190.90" y="538.20" width="10.80" height="10.80" fill="#F20505"/>
<rect x="1209.00" y="547.50" width="10.80" height="10.80" fill="#F20505"/>
<text transform="translate(1031.7,676.88) rotate(-90)" font-size="18.5">S.C. tumor weight (g)</text>
<text transform="translate(1131.2,754.0) rotate(-45)" font-size="20.5" text-anchor="end">S.C.</text>
<text transform="translate(1213.2,754.2) rotate(-45)" font-size="20.5" text-anchor="end">S.C.+ liver</text>
</svg></body></html>
